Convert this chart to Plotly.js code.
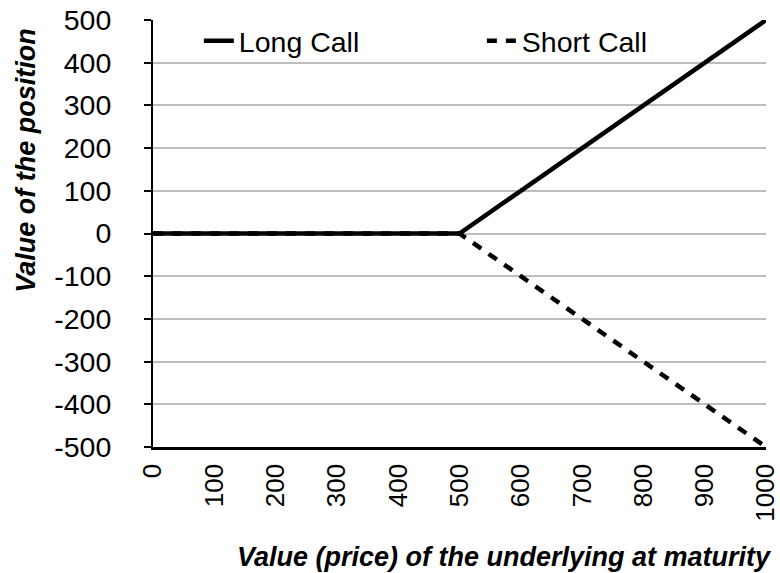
<!DOCTYPE html>
<html>
<head>
<meta charset="utf-8">
<script src="https://cdn.plot.ly/plotly-3.0.1.min.js"></script>
<style>html,body{margin:0;padding:0;background:#fff;}#chart{width:780px;height:573px;}</style>
</head>
<body>
<div id="chart"></div>
<script>
// Underlying price at maturity (strike = 500)
const underlyingPrice = [0, 100, 200, 300, 400, 500, 600, 700, 800, 900, 1000];
const longCall  = [0, 0, 0, 0, 0, 0, 100, 200, 300, 400, 500];
const shortCall = [0, 0, 0, 0, 0, 0, -100, -200, -300, -400, -500];
const yTicks = [-500, -400, -300, -200, -100, 0, 100, 200, 300, 400, 500];
const xTicks = [0, 100, 200, 300, 400, 500, 600, 700, 800, 900, 1000];
const seriesNames = ['Long Call', 'Short Call'];
const xTitle = 'Value (price) of the underlying at maturity';
const yTitle = 'Value of the position';

const FONT = 'Liberation Sans, Arial, Helvetica, sans-serif';
const FS = 28.5;
const FT = 27;

const traces = [
  {x: underlyingPrice, y: longCall, name: seriesNames[0], type: 'scatter', mode: 'lines',
   line: {color: '#000', width: 4.5}},
  {x: underlyingPrice, y: shortCall, name: seriesNames[1], type: 'scatter', mode: 'lines',
   line: {color: '#000', width: 4.5, dash: '10px,9px'}}
];

const layout = {
  width: 780, height: 573,
  margin: {l: 153, r: 14, t: 20, b: 126, autoexpand: false},
  paper_bgcolor: '#fff', plot_bgcolor: '#fff',
  font: {family: FONT, size: FS, color: '#000'},
  showlegend: true,
  legend: {orientation: 'h', x: 0.0748, xanchor: 'left', y: 1.01, yanchor: 'top',
           font: {family: FONT, size: FS, color: '#000'}, bgcolor: 'rgba(0,0,0,0)',
           entrywidth: 238, traceorder: 'normal'},
  xaxis: {range: [0, 1000], tickvals: xTicks, ticktext: xTicks.map(String),
          tickangle: -90, showgrid: false, zeroline: false, automargin: false,
          showline: true, linecolor: '#000', linewidth: 2.5, ticks: '',
          ticklabelstandoff: 4, ticklabeloverflow: 'allow',
          tickfont: {family: FONT, size: 26, color: '#000'}},
  yaxis: {range: [-500, 500], tickvals: yTicks, ticktext: yTicks.map(String),
          showgrid: true, gridcolor: '#bdbdbd', gridwidth: 2, zeroline: false, automargin: false,
          showline: true, linecolor: '#000', linewidth: 2,
          ticks: 'outside', ticklen: 7, tickwidth: 2, tickcolor: '#000',
          ticklabelstandoff: 27, tickfont: {family: FONT, size: FS, color: '#000'}},
  yaxis2: {overlaying: 'y', anchor: 'x', side: 'left', range: [-500, 500], tickvals: yTicks,
           showgrid: false, zeroline: false, showline: false, showticklabels: false, automargin: false,
           ticks: 'inside', ticklen: 7, tickwidth: 2, tickcolor: '#000'},
  annotations: [
    {text: xTitle, xref: 'paper', yref: 'paper', x: 0.574, y: -0.2576,
     xanchor: 'center', yanchor: 'middle', showarrow: false,
     font: {family: FONT, size: FT, color: '#000', weight: 'bold', style: 'italic'}},
    {text: yTitle, xref: 'paper', yref: 'paper', x: -0.2075, y: 0.672, textangle: -90,
     xanchor: 'center', yanchor: 'middle', showarrow: false,
     font: {family: FONT, size: FT, color: '#000', weight: 'bold', style: 'italic'}}
  ]
};

Plotly.newPlot('chart', traces, layout, {displayModeBar: false, staticPlot: true});
</script>
</body>
</html>
